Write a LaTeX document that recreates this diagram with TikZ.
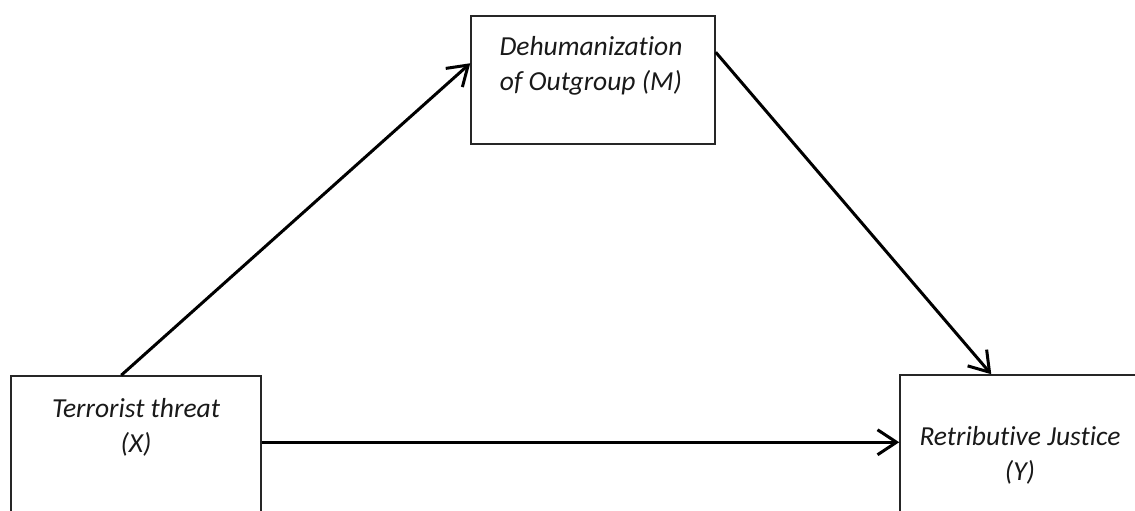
\documentclass[tikz,border=0pt]{standalone}
\usepackage{fontspec}
\setmainfont[Ligatures=NoCommon]{Carlito}
\usetikzlibrary{arrows.meta}
\begin{document}
\begin{tikzpicture}[x=1pt,y=-1pt,
  box/.style={draw=black!85,line width=1.5pt,rectangle,inner sep=0pt},
  lbl/.style={align=center,inner sep=0pt,font=\fontsize{27.5}{35}\selectfont\itshape,text=black!90},
  arr/.style={line width=3pt,-{Straight Barb[length=19pt,width=25pt,line width=3pt]}}]
\clip (0,0) rectangle (1135,511);
\fill[white] (0,0) rectangle (1135,511);
% boxes
\node[box,minimum width=244pt,minimum height=128pt] (M) at (593,80) {};
\node[box,minimum width=250pt,minimum height=200pt] (X) at (136,476) {};
\node[box,minimum width=250pt,minimum height=200pt] (Y) at (1025,475) {};
% texts
\node[lbl] (Mt) at (591,66) {Dehumanization\\of Outgroup (M)};
\node[lbl] (Xt) at (136,427) {Terrorist threat\\(X)};
\node[lbl] (Yt) at (1020,455) {Retributive Justice\\(Y)};
% connectors
\draw[arr] ([xshift=111pt]X.north west) -- ([yshift=-48pt]M.north west);
\draw[arr] ([yshift=-37pt]M.north east) -- ([xshift=92pt]Y.north west);
\coordinate (h) at ([yshift=-67pt]X.north east);
\draw[arr] (h) -- (h -| Y.west);
\end{tikzpicture}
\end{document}
